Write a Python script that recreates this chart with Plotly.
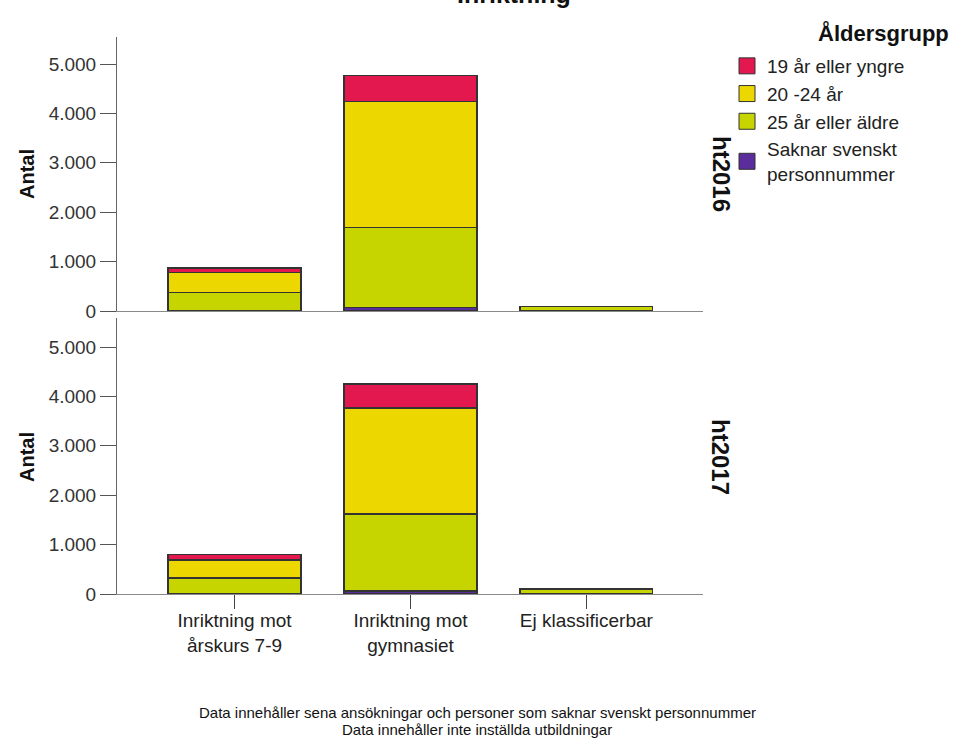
import plotly.graph_objects as go

# ---------------- data ----------------
categories = ["Inriktning mot<br>årskurs 7-9", "Inriktning mot<br>gymnasiet", "Ej klassificerbar"]
panels = ["ht2016", "ht2017"]

series_names = ["19 år eller yngre", "20 -24 år", "25 år eller äldre", "Saknar svenskt<br>personnummer"]
series_colors = ["#E3184E", "#ECD800", "#C6D500", "#5A2C9C"]

# ht2016 values per category
ht2016_19 = [85, 518, 0]
ht2016_20_24 = [405, 2559, 5]
ht2016_25 = [370, 1616, 90]
ht2016_saknar = [10, 70, 0]

# ht2017 values per category
ht2017_19 = [110, 486, 0]
ht2017_20_24 = [370, 2146, 5]
ht2017_25 = [310, 1560, 100]
ht2017_saknar = [10, 60, 0]

y_tickvals = [0, 1000, 2000, 3000, 4000, 5000]
y_ticktext = ["0", "1.000", "2.000", "3.000", "4.000", "5.000"]

footnote_lines = [
    "Data innehåller sena ansökningar och personer som saknar svenskt personnummer",
    "Data innehåller inte inställda utbildningar",
]

# ---------------- figure ----------------
W, H = 954, 738
FONT = "Liberation Sans, Arial, sans-serif"
fig = go.Figure()

panel_data = {
    "ht2016": [ht2016_19, ht2016_20_24, ht2016_25, ht2016_saknar],
    "ht2017": [ht2017_19, ht2017_20_24, ht2017_25, ht2017_saknar],
}
axes = {"ht2016": ("x2", "y2"), "ht2017": ("x", "y")}

for p in panels:
    xa, ya = axes[p]
    vals = panel_data[p]
    # stack from bottom: saknar, 25+, 20-24, 19
    for idx in [3, 2, 1, 0]:
        fig.add_trace(go.Bar(
            x=categories, y=vals[idx], name=series_names[idx],
            marker=dict(color=series_colors[idx], line=dict(color="#333333", width=1.4)),
            xaxis=xa, yaxis=ya, showlegend=False, legendgroup=series_names[idx],
            hoverinfo="x+y+name",
        ))

# legend entries
for name, col in zip(series_names, series_colors):
    fig.add_trace(go.Scatter(
        x=[None], y=[None], mode="markers", name=name, legendgroup=name,
        marker=dict(symbol="square", size=20, color=col, line=dict(color="#333333", width=1)),
        xaxis="x", yaxis="y", showlegend=True,
    ))

def px_x(v):
    return v / W

def px_y(v):
    return (H - v) / H

x_dom = [px_x(117), px_x(703)]
x_range = [-0.668, 2.663]

axis_common_x = dict(
    domain=x_dom, range=x_range, type="category", automargin=False,
    showline=True, linecolor="#8a8a8a", linewidth=1,
    showgrid=False, zeroline=False, fixedrange=True,
)
yaxis_common = dict(
    tickvals=y_tickvals, ticktext=y_ticktext, automargin=False,
    showline=True, linecolor="#666666", linewidth=1,
    ticks="outside", ticklen=16, tickcolor="#555555",
    tickfont=dict(family=FONT, size=19, color="#333333"),
    showgrid=False, zeroline=False, fixedrange=True,
)
fig.update_layout(
    xaxis=dict(**axis_common_x, anchor="y", ticks="outside", ticklen=14, tickcolor="#444444",
               ticklabelstandoff=-5,
               tickfont=dict(family=FONT, size=19, color="#222222")),
    xaxis2=dict(**axis_common_x, anchor="y2", showticklabels=False, ticks="", matches="x"),
    yaxis=dict(**yaxis_common, domain=[px_y(594), px_y(318)], range=[0, 5587], anchor="x"),
    yaxis2=dict(**yaxis_common, domain=[px_y(311), px_y(37)], range=[0, 5547], anchor="x2"),
    barmode="stack", bargap=0.245,
    width=W, height=H, autosize=False,
    margin=dict(l=0, r=0, t=0, b=0, autoexpand=False),
    paper_bgcolor="white", plot_bgcolor="white",
    font=dict(family=FONT, size=16, color="#222222"),
    legend=dict(
        x=px_x(727), y=px_y(47), xanchor="left", yanchor="top",
        font=dict(family=FONT, size=19, color="#222222"),
        bgcolor="rgba(0,0,0,0)", traceorder="normal", itemclick=False,
    ),
    showlegend=True,
)

def note(text, x, y, size, angle=0, xanchor="center", yanchor="middle", bold=False):
    return dict(text=f"<b>{text}</b>" if bold else text, x=px_x(x), y=px_y(y),
                xref="paper", yref="paper", xanchor=xanchor, yanchor=yanchor,
                textangle=angle, showarrow=False,
                font=dict(family=FONT, size=size, color="#111111"))

annotations = [
    note("Inriktning", 514, 10, 25, yanchor="bottom", bold=True),      # clipped title
    note("Åldersgrupp", 951, 33, 22, xanchor="right", bold=True),       # legend title
    note("Antal", 27, 174, 20, angle=-90, bold=True),
    note("Antal", 27, 457, 20, angle=-90, bold=True),
    note("ht2016", 721, 174, 24, angle=90, bold=True),
    note("ht2017", 721, 457, 24, angle=90, bold=True),
    note(footnote_lines[0], 477, 712, 15),
    note(footnote_lines[1], 477, 729, 15),
]
fig.update_layout(annotations=annotations)

fig.write_html("out.html", config={"displayModeBar": False},
               post_script="document.body.style.margin='0px';")
